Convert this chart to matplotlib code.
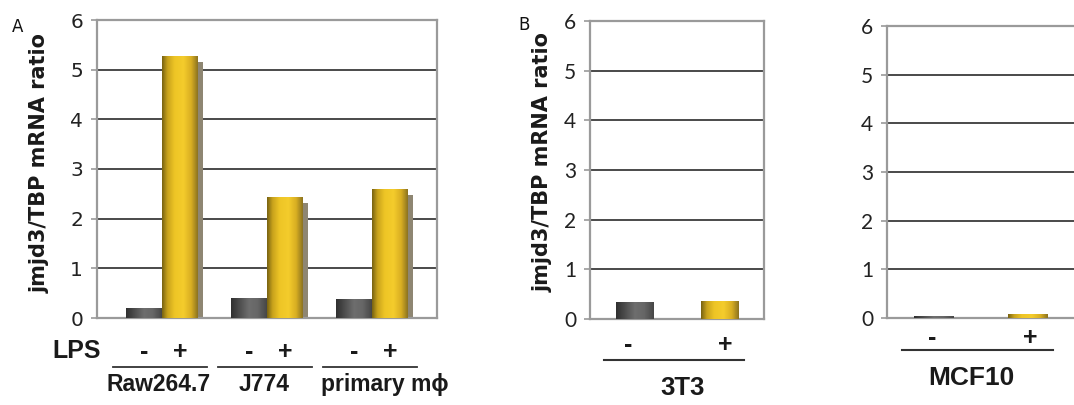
import matplotlib
matplotlib.use("Agg")
import matplotlib.pyplot as plt
import matplotlib.transforms as mtransforms
from matplotlib.colors import LinearSegmentedColormap
import numpy as np

# ---------------- data ----------------
groups_A = ["Raw264.7", "J774", "primary m\u03d5"]
lps_minus_A = [0.20, 0.40, 0.38]
lps_plus_A = [5.28, 2.43, 2.60]
signs = ["-", "+"]
values_3T3 = [0.35, 0.36]
values_MCF10 = [0.04, 0.08]
yticks = [0, 1, 2, 3, 4, 5, 6]
ylabel = "jmjd3/TBP mRNA ratio"

W, H = 1074, 405
fig = plt.figure(figsize=(W / 100, H / 100), dpi=100)


def px_axes(l, r, t, b):
    return fig.add_axes([l / W, 1 - b / H, (r - l) / W, (b - t) / H])


gold_cmap = LinearSegmentedColormap.from_list(
    "gold", [(0, "#7a6412"), (0.15, "#c9a31c"), (0.35, "#eec526"), (0.6, "#f4cc2c"),
             (0.82, "#d8ae22"), (1, "#8d7420")])
gray_cmap = LinearSegmentedColormap.from_list(
    "grayb", [(0, "#303030"), (0.5, "#6e6e6e"), (0.75, "#666666"), (1, "#474747")])


def shade_bars(ax, bars, cmap):
    grad = np.linspace(0, 1, 64).reshape(1, -1)
    for b in bars:
        x0, y0 = b.get_x(), b.get_y()
        w, h = b.get_width(), b.get_height()
        im = ax.imshow(grad, cmap=cmap, extent=[x0, x0 + w, y0, y0 + h],
                       aspect="auto", zorder=b.get_zorder() + 0.1, interpolation="bilinear")
        im.set_clip_path(b)


def style_axes(ax, tickfont, ticksize, hide_right=False):
    ax.set_ylim(0, 6)
    ax.set_yticks(yticks)
    ax.set_yticklabels([str(t) for t in yticks], fontfamily=tickfont,
                       fontsize=ticksize, color="#222222")
    ax.set_xticks([])
    for y in yticks[1:-1]:
        ax.axhline(y, color="#2b2b2b", lw=1.2, zorder=1)
    for s in ["left", "right", "top", "bottom"]:
        ax.spines[s].set_color("#9a9a9a")
        ax.spines[s].set_linewidth(1.6)
    if hide_right:
        ax.spines["right"].set_visible(False)
    ax.tick_params(axis="y", length=4, width=1.2, color="#9a9a9a", pad=6)


bold = dict(fontfamily="Liberation Sans", fontweight="bold", color="#1a1a1a")
ybold = dict(fontfamily="DejaVu Sans", fontweight="bold", color="#1a1a1a")

# ---------------- Panel A ----------------
axA = px_axes(97, 437, 20, 318)
xA = np.arange(len(groups_A))
bw = 0.34
axA.bar(xA - bw / 2 + 0.05, np.array(lps_minus_A) - 0.1, bw, color="#8e8672", zorder=2)
axA.bar(xA + bw / 2 + 0.05, np.array(lps_plus_A) - 0.12, bw, color="#8e8672", zorder=2)
bars_minus = axA.bar(xA - bw / 2, lps_minus_A, bw, color="#555555", zorder=3)
bars_plus = axA.bar(xA + bw / 2, lps_plus_A, bw, color="#e0b828", zorder=4)
shade_bars(axA, bars_minus, gray_cmap)
shade_bars(axA, bars_plus, gold_cmap)
axA.set_xlim(-0.62, 2.62)
style_axes(axA, "DejaVu Sans", 14.5)

trA = mtransforms.blended_transform_factory(axA.transData, axA.transAxes)
for i, g in enumerate(groups_A):
    axA.text(i - bw / 2, -0.114, signs[0], transform=trA, ha="center", va="center",
             fontsize=18, clip_on=False, **bold)
    axA.text(i + bw / 2, -0.114, signs[1], transform=trA, ha="center", va="center",
             fontsize=18, clip_on=False, **bold)
    axA.plot([i - 0.47, i + 0.43], [-0.163, -0.163], transform=trA, color="#333333",
             lw=1.3, clip_on=False)
    dx = 0.12 if i == 2 else -0.03
    axA.text(i + dx, -0.222, g, transform=trA, ha="center", va="center",
             fontsize=16.5, clip_on=False, **bold)

fig.text(77 / W, 1 - 351 / H, "LPS", ha="center", va="center", fontsize=18, **bold)
fig.text(40 / W, 1 - 163 / H, ylabel, rotation=90, ha="center", va="center",
         fontsize=15, **ybold)
fig.text(18 / W, 1 - 27 / H, "A", ha="center", va="center", fontsize=12,
         fontfamily="DejaVu Sans", color="#111111")

# ---------------- Panel B: 3T3 ----------------
axB1 = px_axes(590, 764, 21, 319)
xB = np.arange(len(signs))
bwB = 0.44
b1 = axB1.bar(xB, values_3T3, bwB, color=["#555555", "#e0b828"], zorder=3)
shade_bars(axB1, [b1[0]], gray_cmap)
shade_bars(axB1, [b1[1]], gold_cmap)
axB1.set_xlim(-0.53, 1.52)
style_axes(axB1, "Lato", 15)
trB1 = mtransforms.blended_transform_factory(axB1.transData, axB1.transAxes)
for i, s in enumerate(signs):
    axB1.text(i - 0.08 if i == 0 else i + 0.06, -0.087, s, transform=trB1, ha="center",
              va="center", fontsize=18, clip_on=False, **bold)
axB1.plot([-0.36, 1.29], [-0.138, -0.138], transform=trB1, color="#333333", lw=1.5,
          clip_on=False)
axB1.text(0.56, -0.232, "3T3", transform=trB1, ha="center", va="center",
          fontsize=18.5, clip_on=False, **bold)

fig.text(543 / W, 1 - 162 / H, ylabel, rotation=90, ha="center", va="center",
         fontsize=15, **ybold)
fig.text(524 / W, 1 - 25 / H, "B", ha="center", va="center", fontsize=12,
         fontfamily="DejaVu Sans", color="#111111")

# ---------------- Panel B: MCF10 ----------------
axB2 = px_axes(887, 1075, 26, 318)
b2 = axB2.bar(xB, values_MCF10, 0.42, color=["#555555", "#e0b828"], zorder=3)
shade_bars(axB2, [b2[0]], gray_cmap)
shade_bars(axB2, [b2[1]], gold_cmap)
axB2.set_xlim(-0.5, 1.5)
style_axes(axB2, "Lato", 15, hide_right=True)
trB2 = mtransforms.blended_transform_factory(axB2.transData, axB2.transAxes)
for i, s in enumerate(signs):
    axB2.text(i - 0.02 if i == 0 else i + 0.02, -0.068, s, transform=trB2, ha="center",
              va="center", fontsize=18, clip_on=False, **bold)
axB2.plot([-0.34, 1.27], [-0.11, -0.11], transform=trB2, color="#333333", lw=1.5,
          clip_on=False)
axB2.text(0.40, -0.205, "MCF10", transform=trB2, ha="center", va="center",
          fontsize=19, clip_on=False, **bold)

fig.savefig("out.png", dpi=100)
